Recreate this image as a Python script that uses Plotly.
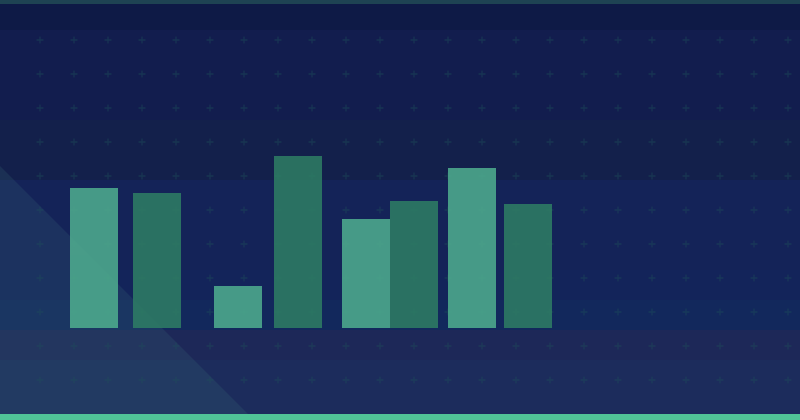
import numpy as np
import plotly.graph_objects as go

# bar data (x position on a 0-100 axis, value on a 0-164 axis)
light_x = [11.75, 29.75, 45.75, 59.0]
light_y = [70, 21, 54.5, 80]
dark_x = [19.625, 37.25, 51.75, 66.0]
dark_y = [67.5, 86, 63.5, 62]

W, H = 800, 420
BASE = 92  # pixels below the bar baseline


def py(p):
    # pixel row -> paper fraction
    return 1 - p / H


fig = go.Figure()

# faint "+" grid behind everything (pixel-unit axes over the whole page)
gx, gy = np.meshgrid(np.arange(40, W, 34), np.arange(40, H - 20, 34))
fig.add_trace(go.Scatter(
    x=gx.ravel(), y=gy.ravel(), mode="markers",
    marker=dict(symbol="cross-thin", size=5, line=dict(width=1.3, color="rgba(30,80,90,0.45)")),
    hoverinfo="skip", showlegend=False))

fig.add_trace(go.Bar(x=light_x, y=light_y, width=6, opacity=0.86, xaxis="x2", yaxis="y2",
                     marker=dict(color="#4fae8f", line=dict(width=0)), showlegend=False))
fig.add_trace(go.Bar(x=dark_x, y=dark_y, width=6, opacity=0.86, xaxis="x2", yaxis="y2",
                     marker=dict(color="#2e7e64", line=dict(width=0)), showlegend=False))

# horizontal background bands
bands = [
    (0, 4, "#1e4353"),
    (4, 30, "#0e1a46"),
    (30, 120, "#121d4e"),
    (120, 180, "#13204b"),
    (180, 270, "#142358"),
    (270, 300, "#13245a"),
    (300, 330, "#12285c"),
    (330, 360, "#1d2858"),
    (360, 414, "#1c2c5c"),
]
shapes = []
for y0, y1, col in bands:
    shapes.append(dict(type="rect", xref="paper", yref="paper", x0=0, x1=1,
                       y0=py(y1), y1=py(y0), fillcolor=col, line=dict(width=0), layer="below"))

# lighter diagonal wedge at lower left
shapes.append(dict(type="path", xref="paper", yref="paper", layer="below",
                   path="M 0 %f L %f %f L 0 %f Z" % (py(166), 254 / W, py(420), py(420)),
                   fillcolor="rgba(65,120,125,0.18)", line=dict(width=0)))

# bottom accent strip
shapes.append(dict(type="rect", xref="paper", yref="paper", x0=0, x1=1,
                   y0=0, y1=py(414), fillcolor="#50c497", line=dict(width=0), layer="above"))

fig.update_layout(
    width=W, height=H,
    margin=dict(l=0, r=0, t=0, b=0),
    paper_bgcolor="#121d4e", plot_bgcolor="rgba(0,0,0,0)",
    barmode="overlay",
    hovermode=False,
    shapes=shapes,
    xaxis=dict(range=[0, W], domain=[0, 1], visible=False, fixedrange=True),
    yaxis=dict(range=[H, 0], domain=[0, 1], visible=False, fixedrange=True),
    xaxis2=dict(range=[0, 100], domain=[0, 1], anchor="y2", visible=False, fixedrange=True),
    yaxis2=dict(range=[0, 164], domain=[BASE / H, 1], anchor="x2", visible=False, fixedrange=True),
)

fig.write_html("out.html", config={"displayModeBar": False},
               post_script="document.body.style.margin='0';")
